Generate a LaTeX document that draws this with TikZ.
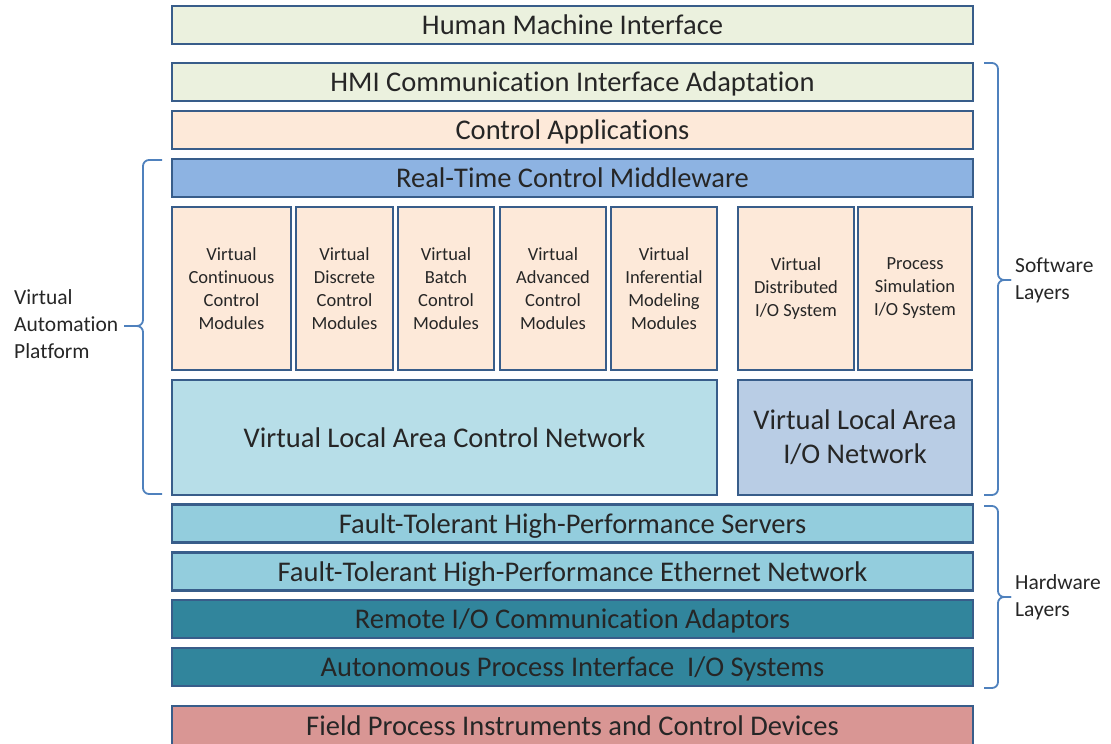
\documentclass[tikz,border=0pt]{standalone}
\usepackage{fontspec}
\setmainfont{Carlito}[Ligatures={NoCommon,TeX}]
\definecolor{edge}{HTML}{385D8A}
\definecolor{hmigreen}{HTML}{EBF1DE}
\definecolor{peach}{HTML}{FDE9D9}
\definecolor{midblue}{HTML}{8DB3E2}
\definecolor{lanaqua}{HTML}{B7DEE8}
\definecolor{lanblue}{HTML}{B9CDE5}
\definecolor{ftaqua}{HTML}{93CDDD}
\definecolor{teal}{HTML}{31859C}
\definecolor{fieldred}{HTML}{D99694}
\definecolor{bracecol}{HTML}{4F81BD}
\definecolor{ink}{HTML}{262626}
\tikzset{
  layer/.style={draw=edge, line width=2.5pt, text=ink, inner sep=0pt,
    minimum width=801pt, minimum height=38pt, text height=22pt, text depth=3pt,
    font=\fontsize{28.5}{34}\selectfont},
  module/.style={draw=edge, line width=2.5pt, fill=peach, text=ink, inner sep=0pt,
    minimum height=163pt, align=center,
    font=\fontsize{18.5}{23}\selectfont},
  network/.style={draw=edge, line width=2.5pt, text=ink, inner sep=0pt,
    minimum height=115pt, align=center,
    font=\fontsize{28.5}{34}\selectfont},
  sidelabel/.style={text=ink, align=left, inner sep=0pt, anchor=west,
    font=\fontsize{21.5}{27}\selectfont},
  bracket/.style={draw=bracecol, line width=1.8pt, rounded corners=6pt}
}
\begin{document}
\begin{tikzpicture}[x=1pt, y=-1pt]
\useasboundingbox (0,0) rectangle (1111,744);

% horizontal layers
\node[layer, fill=hmigreen] (hmi)   at (572.5,25)  {Human Machine Interface};
\node[layer, fill=hmigreen] (hmica) at (572.5,82)  {HMI Communication Interface Adaptation};
\node[layer, fill=peach]    (capp)  at (572.5,130) {Control Applications};
\node[layer, fill=midblue]  (rtcm)  at (572.5,178) {Real-Time Control Middleware};

% virtual control and I/O modules
\node[module, minimum width=119pt] (m1) at (231.5,288.5) {Virtual\\Continuous\\Control\\Modules};
\node[module, minimum width=97pt]  (m2) at (344.5,288.5) {Virtual\\Discrete\\Control\\Modules};
\node[module, minimum width=96pt]  (m3) at (446,288.5)   {Virtual\\Batch\\Control\\Modules};
\node[module, minimum width=106pt] (m4) at (553,288.5)   {Virtual\\Advanced\\Control\\Modules};
\node[module, minimum width=106pt] (m5) at (664,288.5)   {Virtual\\Inferential\\Modeling\\Modules};
\node[module, minimum width=116pt] (m6) at (796,288.5)   {Virtual\\Distributed\\I/O System};
\node[module, minimum width=114pt] (m7) at (915,288.5)   {Process\\Simulation\\I/O System};

% virtual networks
\node[network, fill=lanaqua, minimum width=545pt] (vlacn) at (444.5,437.5) {Virtual Local Area Control Network};
\node[network, fill=lanblue, minimum width=234pt] (vlaio) at (855,437.5) {Virtual Local Area\\I/O Network};

% hardware layers
\node[layer, fill=ftaqua] (fts)  at (572.5,523.5) {Fault-Tolerant High-Performance Servers};
\node[layer, fill=ftaqua] (fte)  at (572.5,571.5) {Fault-Tolerant High-Performance Ethernet Network};
\node[layer, fill=teal]   (rio)  at (572.5,619)   {Remote I/O Communication Adaptors};
\node[layer, fill=teal]   (apio) at (572.5,667)   {Autonomous Process Interface~~I/O Systems};
\node[layer, fill=fieldred, minimum height=40pt] (field) at (572.5,726) {Field Process Instruments and Control Devices};

% side labels
\node[sidelabel] (vap) at (14,324)   {Virtual\\Automation\\Platform};
\node[sidelabel] (sw)  at (1015,280) {Software\\Layers};
\node[sidelabel] (hw)  at (1015,597) {Hardware\\Layers};

% braces
\coordinate (vaptip) at (124,326);
\draw[bracket] (162,160) -- (143,160) -- (143,326) -- (vaptip);
\draw[bracket] (162,494) -- (143,494) -- (143,326) -- (vaptip);

\coordinate (swtip) at (1011,280);
\draw[bracket] (984,63)  -- (998,63)  -- (998,280) -- (swtip);
\draw[bracket] (984,495) -- (998,495) -- (998,280) -- (swtip);

\coordinate (hwtip) at (1011,597);
\draw[bracket] (984,506) -- (998,506) -- (998,597) -- (hwtip);
\draw[bracket] (984,688) -- (998,688) -- (998,597) -- (hwtip);
\end{tikzpicture}
\end{document}
